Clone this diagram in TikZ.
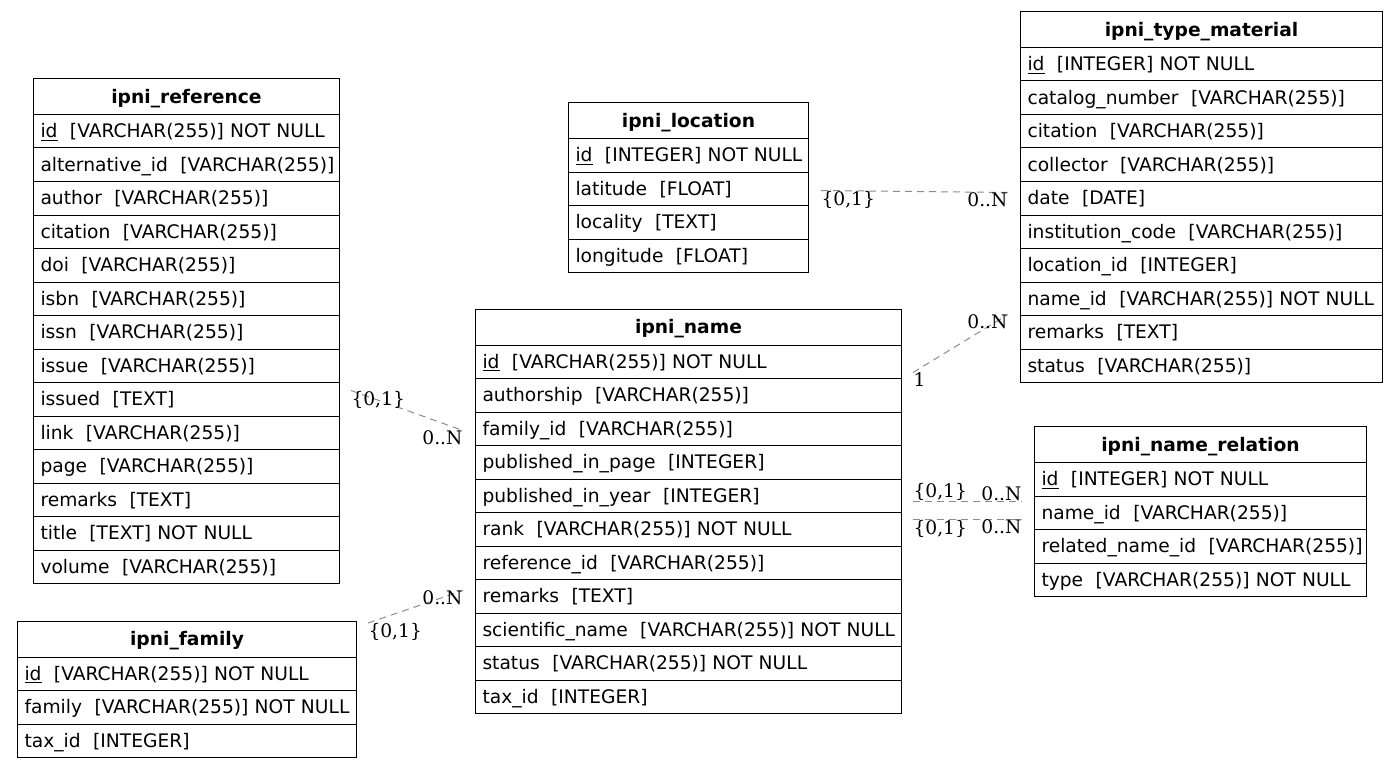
\documentclass[tikz,border=0pt]{standalone}
\usepackage{fontspec}
\setmainfont{DejaVu Sans}
\newfontfamily\cardfont{DejaVu Serif}

\begin{document}
\begin{tikzpicture}[x=0.75pt,y=-0.75pt,
	head/.style={draw, line width=0.75pt, anchor=north west, minimum width=#1, minimum height=27pt, inner sep=0pt, text height=13pt, text depth=3pt, font=\fontsize{14}{17}\selectfont\bfseries},
	field/.style={draw, line width=0.75pt, anchor=north west, text width=#1, align=left, minimum height=25.125pt, inner xsep=5.25pt, inner ysep=2pt, text height=13pt, text depth=3pt, font=\fontsize{14}{17}\selectfont},
	link/.style={draw=gray!90, line width=0.75pt, dash pattern=on 5.25pt off 3.75pt},
	card/.style={inner sep=0pt, font=\cardfont\fontsize{14}{17}\selectfont}]
	\useasboundingbox (0,0) rectangle (1397,767);

	\node [head=229.5pt] (ref) at (33,78) {ipni\_reference};
	\foreach \txt [count=\i] in {\underline{id}\ \ [VARCHAR(255)] NOT NULL, alternative\_id\ \ [VARCHAR(255)], author\ \ [VARCHAR(255)], citation\ \ [VARCHAR(255)], doi\ \ [VARCHAR(255)], isbn\ \ [VARCHAR(255)], issn\ \ [VARCHAR(255)], issue\ \ [VARCHAR(255)], issued\ \ [TEXT], link\ \ [VARCHAR(255)], page\ \ [VARCHAR(255)], remarks\ \ [TEXT], title\ \ [TEXT] NOT NULL, volume\ \ [VARCHAR(255)]}
		\node [field=219pt] (ref-\i) at (33,{114+33.5*(\i-1)}) {\mbox{\txt}};

	\node [head=180pt] (loc) at (568,102) {ipni\_location};
	\foreach \txt [count=\i] in {\underline{id}\ \ [INTEGER] NOT NULL, latitude\ \ [FLOAT], locality\ \ [TEXT], longitude\ \ [FLOAT]}
		\node [field=169.5pt] (loc-\i) at (568,{138+33.5*(\i-1)}) {\mbox{\txt}};

	\node [head=271.5pt] (tm) at (1020,11) {ipni\_type\_material};
	\foreach \txt [count=\i] in {\underline{id}\ \ [INTEGER] NOT NULL, catalog\_number\ \ [VARCHAR(255)], citation\ \ [VARCHAR(255)], collector\ \ [VARCHAR(255)], date\ \ [DATE], institution\_code\ \ [VARCHAR(255)], location\_id\ \ [INTEGER], name\_id\ \ [VARCHAR(255)] NOT NULL, remarks\ \ [TEXT], status\ \ [VARCHAR(255)]}
		\node [field=261pt] (tm-\i) at (1020,{47+33.5*(\i-1)}) {\mbox{\txt}};

	\node [head=319.5pt] (name) at (475,308.5) {ipni\_name};
	\foreach \txt [count=\i] in {\underline{id}\ \ [VARCHAR(255)] NOT NULL, authorship\ \ [VARCHAR(255)], family\_id\ \ [VARCHAR(255)], published\_in\_page\ \ [INTEGER], published\_in\_year\ \ [INTEGER], rank\ \ [VARCHAR(255)] NOT NULL, reference\_id\ \ [VARCHAR(255)], remarks\ \ [TEXT], scientific\_name\ \ [VARCHAR(255)] NOT NULL, status\ \ [VARCHAR(255)] NOT NULL, tax\_id\ \ [INTEGER]}
		\node [field=309pt] (name-\i) at (475,{344.5+33.5*(\i-1)}) {\mbox{\txt}};

	\node [head=249pt] (rel) at (1034,426) {ipni\_name\_relation};
	\foreach \txt [count=\i] in {\underline{id}\ \ [INTEGER] NOT NULL, name\_id\ \ [VARCHAR(255)], related\_name\_id\ \ [VARCHAR(255)], type\ \ [VARCHAR(255)] NOT NULL}
		\node [field=238.5pt] (rel-\i) at (1034,{462+33.5*(\i-1)}) {\mbox{\txt}};

	\node [head=254.25pt] (fam) at (17,620.5) {ipni\_family};
	\foreach \txt [count=\i] in {\underline{id}\ \ [VARCHAR(255)] NOT NULL, family\ \ [VARCHAR(255)] NOT NULL, tax\_id\ \ [INTEGER]}
		\node [field=243.75pt] (fam-\i) at (17,{656.5+33.5*(\i-1)}) {\mbox{\txt}};

	\draw [link] ([shift={(11,-8.75)}]ref-9.east) -- ([shift={(-12,1.75)}]name-3.west)
		node [card, pos=0, anchor=north west] {\{0,1\}} node [card, pos=1, anchor=north east] {0..N};
	\draw [link] ([shift={(11,2.5)}]fam.north east) -- ([shift={(-12,-5.75)}]name-8.west)
		node [card, pos=0, anchor=north west] {\{0,1\}} node [card, pos=1, anchor=north east] {0..N};
	\draw [link] ([shift={(12,1.75)}]loc-2.east) -- ([shift={(-12,-5.75)}]tm-5.west)
		node [card, pos=0, anchor=north west] {\{0,1\}} node [card, pos=1, anchor=north east] {0..N};
	\draw [link] ([shift={(11,10.75)}]name-1.east) -- ([shift={(-12,15.75)}]tm-8.west)
		node [card, pos=0, anchor=north west] {1} node [card, pos=1, anchor=north east] {0..N};
	\draw [link] ([shift={(11,5.75)}]name-5.east) -- ([shift={(-12,-11.25)}]rel-2.west)
		node [card, pos=0, anchor=south west] {\{0,1\}} node [card, pos=1, anchor=south east] {0..N};
	\draw [link] ([shift={(11,-9.75)}]name-6.east) -- ([shift={(-12,6.75)}]rel-2.west)
		node [card, pos=0, anchor=north west] {\{0,1\}} node [card, pos=1, anchor=north east] {0..N};
\end{tikzpicture}
\end{document}
